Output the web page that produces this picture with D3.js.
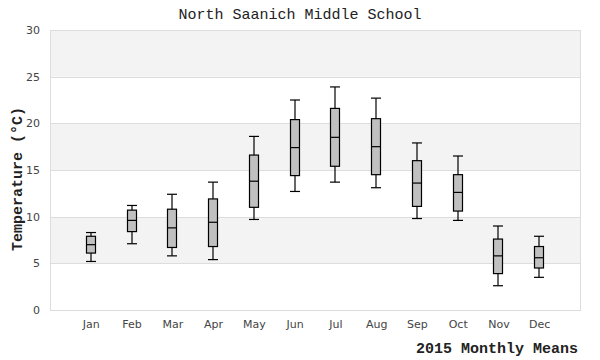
<!DOCTYPE html>
<meta charset="utf-8">
<style>
body { margin: 0; background: #fff; }
.tick text { font-family: "DejaVu Sans"; font-size: 11px; fill: #444; }
.title { font-family: "Liberation Mono"; font-size: 15px; fill: #222; }
.axis-title { font-family: "Liberation Mono"; font-size: 15px; font-weight: bold; fill: #222; }
.box { fill: #c0c0c0; stroke: #000; stroke-width: 1.2; }
.whisker { stroke: #000; stroke-width: 1.2; }
</style>
<body>
<svg width="600" height="360"></svg>
<script src="https://d3js.org/d3.v7.min.js"></script>
<script>
// monthly means, 2015
var months = ["Jan", "Feb", "Mar", "Apr", "May", "Jun", "Jul", "Aug", "Sep", "Oct", "Nov", "Dec"];
var lows   = [5.2, 7.1, 5.8, 5.4, 9.7, 12.7, 13.7, 13.1, 9.8, 9.6, 2.6, 3.5];
var q1s    = [6.1, 8.4, 6.7, 6.8, 11.0, 14.4, 15.4, 14.5, 11.1, 10.6, 3.9, 4.5];
var meds   = [7.0, 9.6, 8.8, 9.4, 13.8, 17.4, 18.5, 17.5, 13.6, 12.6, 5.8, 5.6];
var q3s    = [7.9, 10.7, 10.8, 11.9, 16.6, 20.4, 21.6, 20.5, 16.0, 14.5, 7.6, 6.8];
var highs  = [8.3, 11.2, 12.4, 13.7, 18.6, 22.5, 23.9, 22.7, 17.9, 16.5, 9.0, 7.9];
var yTicks = [0, 5, 10, 15, 20, 25, 30];

var svg = d3.select("svg"),
    margin = {top: 30, right: 20, bottom: 50, left: 50},
    width = 600 - margin.left - margin.right,
    height = 360 - margin.top - margin.bottom;

var x = d3.scalePoint().domain(months).range([0, width]).padding(1);
var y = d3.scaleLinear().domain([0, 30]).range([height, 0]);

var g = svg.append("g")
    .attr("transform", "translate(" + margin.left + "," + margin.top + ")");

// alternating bands
g.selectAll(".band")
  .data(yTicks.slice(0, -1))
  .enter().append("rect")
    .attr("x", 0)
    .attr("width", width)
    .attr("y", function(d) { return y(d + 5); })
    .attr("height", function(d) { return y(d) - y(d + 5); })
    .attr("fill", function(d, i) { return i % 2 ? "#f3f3f3" : "#fff"; });

g.selectAll(".grid")
  .data(yTicks)
  .enter().append("line")
    .attr("x1", 0).attr("x2", width)
    .attr("y1", function(d) { return Math.round(y(d)) + 0.5; })
    .attr("y2", function(d) { return Math.round(y(d)) + 0.5; })
    .attr("stroke", "#ddd");

g.append("rect")
    .attr("x", 0.5).attr("y", 0.5)
    .attr("width", width).attr("height", height)
    .attr("fill", "none").attr("stroke", "#ddd");

var yAxis = g.append("g")
    .call(d3.axisLeft(y).tickValues(yTicks).tickSize(0).tickPadding(10));
yAxis.select(".domain").remove();

var xAxis = g.append("g")
    .attr("transform", "translate(0," + height + ")")
    .call(d3.axisBottom(x).tickSize(0).tickPadding(10));
xAxis.select(".domain").remove();

var data = months.map(function(m, i) {
  return {m: m, lo: lows[i], q1: q1s[i], med: meds[i], q3: q3s[i], hi: highs[i]};
});

var bw = 9;
var box = g.selectAll(".b")
  .data(data)
  .enter().append("g")
    .attr("transform", function(d) { return "translate(" + Math.round(x(d.m)) + ",0)"; });

box.append("line").attr("class", "whisker")
    .attr("y1", function(d) { return y(d.hi); })
    .attr("y2", function(d) { return y(d.lo); });
box.append("rect").attr("class", "box")
    .attr("x", -bw / 2).attr("width", bw)
    .attr("y", function(d) { return y(d.q3); })
    .attr("height", function(d) { return y(d.q1) - y(d.q3); });
box.append("line").attr("class", "whisker")
    .attr("x1", -bw / 2).attr("x2", bw / 2)
    .attr("y1", function(d) { return y(d.med); })
    .attr("y2", function(d) { return y(d.med); });
box.append("line").attr("class", "whisker")
    .attr("x1", -bw / 2 - 0.5).attr("x2", bw / 2 + 0.5)
    .attr("y1", function(d) { return y(d.hi); })
    .attr("y2", function(d) { return y(d.hi); });
box.append("line").attr("class", "whisker")
    .attr("x1", -bw / 2 - 0.5).attr("x2", bw / 2 + 0.5)
    .attr("y1", function(d) { return y(d.lo); })
    .attr("y2", function(d) { return y(d.lo); });

svg.append("text").attr("class", "title")
    .attr("x", 300).attr("y", 19)
    .attr("text-anchor", "middle")
    .text("North Saanich Middle School");

svg.append("text").attr("class", "axis-title")
    .attr("x", 578).attr("y", 353)
    .attr("text-anchor", "end")
    .text("2015 Monthly Means");

svg.append("text").attr("class", "axis-title")
    .attr("transform", "translate(22,179) rotate(-90)")
    .attr("text-anchor", "middle")
    .text("Temperature (°C)");
</script>
</body>
